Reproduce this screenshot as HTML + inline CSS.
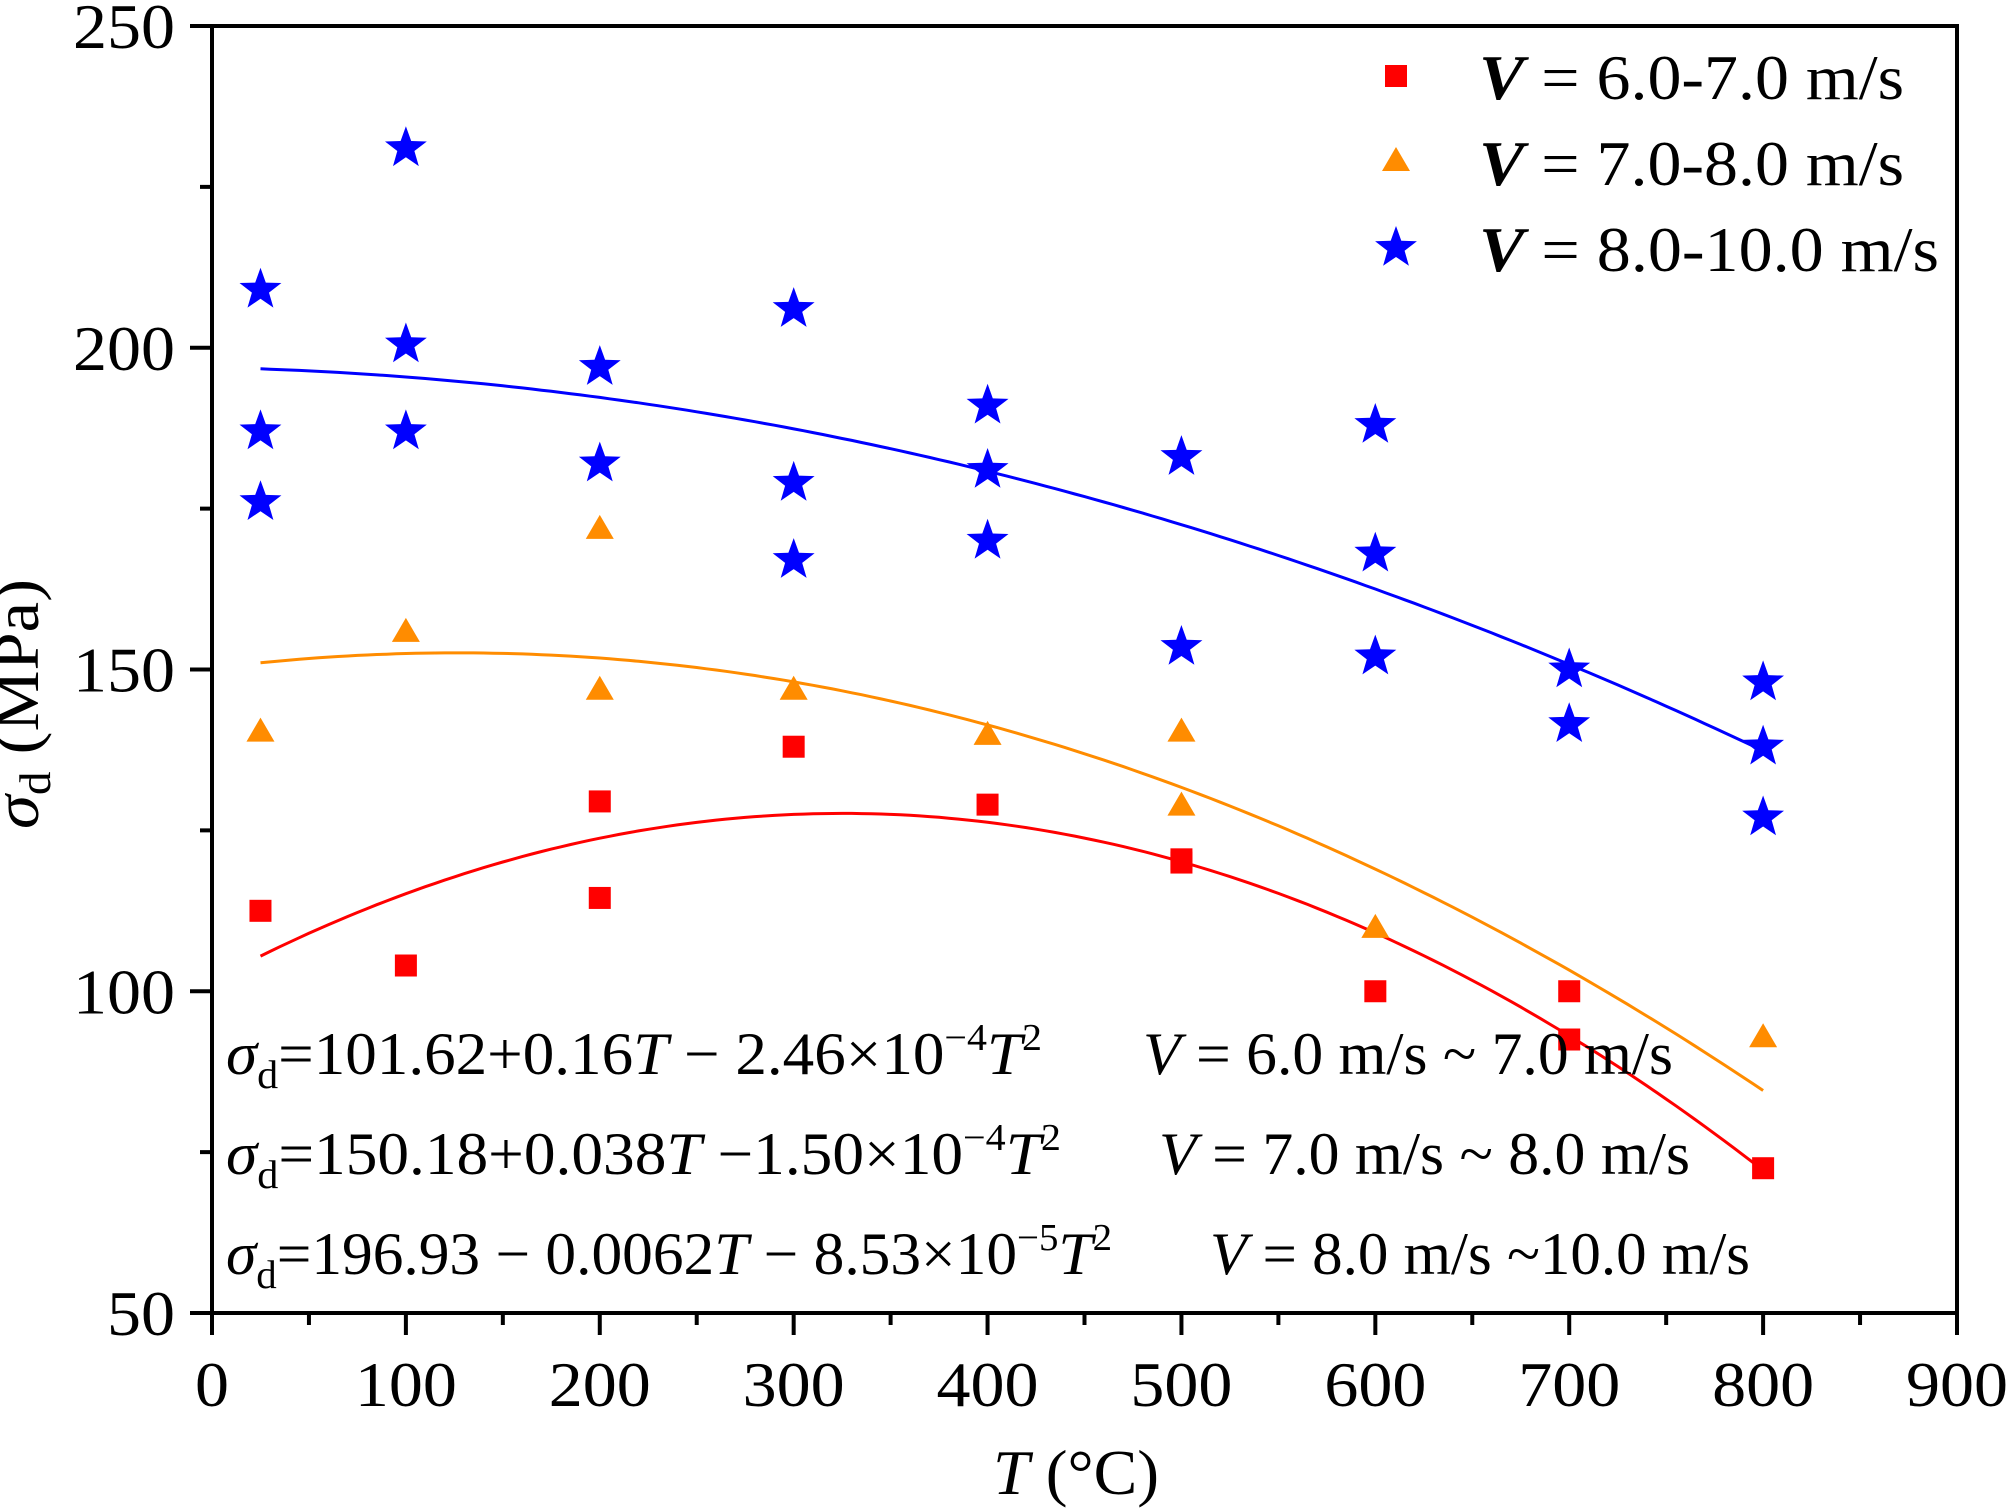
<!DOCTYPE html>
<html><head><meta charset="utf-8"><style>
html,body{margin:0;padding:0;background:#fff}
svg{display:block}
text{font-family:"Liberation Serif",serif;fill:#000}
</style></head><body>
<svg id="s" width="2008" height="1510" xmlns="http://www.w3.org/2000/svg">
<rect x="212" y="26" width="1745" height="1287" fill="none" stroke="#000" stroke-width="4"/>
<g id="ax"></g>
<g id="curves" fill="none" stroke-width="3"></g>
<g id="pts"></g>
<text x="38" y="704" font-size="64" text-anchor="middle" textLength="250" lengthAdjust="spacingAndGlyphs" transform="rotate(-90 38 704)"><tspan font-style="italic">σ</tspan><tspan font-size="44" dy="12">d</tspan><tspan dy="-12"> (MPa)</tspan></text>
<text x="1076" y="1494" font-size="64" text-anchor="middle" textLength="166" lengthAdjust="spacingAndGlyphs"><tspan font-style="italic">T</tspan> (°C)</text>
<g font-size="64">
<text x="1479" y="99" textLength="425" lengthAdjust="spacingAndGlyphs"><tspan font-style="italic" font-weight="bold">V</tspan> = 6.0-7.0 m/s</text>
<text x="1479" y="185" textLength="425" lengthAdjust="spacingAndGlyphs"><tspan font-style="italic" font-weight="bold">V</tspan> = 7.0-8.0 m/s</text>
<text x="1479" y="271" textLength="460" lengthAdjust="spacingAndGlyphs"><tspan font-style="italic" font-weight="bold">V</tspan> = 8.0-10.0 m/s</text>
</g>
<g font-size="60">
<text x="226" y="1074" textLength="816" lengthAdjust="spacingAndGlyphs"><tspan font-style="italic">σ</tspan><tspan font-size="40" dy="14">d</tspan><tspan dy="-14">=101.62+0.16</tspan><tspan font-style="italic">T</tspan> − 2.46×10<tspan font-size="38" dy="-24">−4</tspan><tspan dy="24" font-style="italic">T</tspan><tspan font-size="38" dy="-24">2</tspan></text>
<text x="1143" y="1074" textLength="530" lengthAdjust="spacingAndGlyphs"><tspan font-style="italic">V</tspan> = 6.0 m/s ~ 7.0 m/s</text>
<text x="226" y="1174" textLength="835" lengthAdjust="spacingAndGlyphs"><tspan font-style="italic">σ</tspan><tspan font-size="40" dy="14">d</tspan><tspan dy="-14">=150.18+0.038</tspan><tspan font-style="italic">T</tspan> −1.50×10<tspan font-size="38" dy="-24">−4</tspan><tspan dy="24" font-style="italic">T</tspan><tspan font-size="38" dy="-24">2</tspan></text>
<text x="1159" y="1174" textLength="531" lengthAdjust="spacingAndGlyphs"><tspan font-style="italic">V</tspan> = 7.0 m/s ~ 8.0 m/s</text>
<text x="226" y="1274" textLength="886" lengthAdjust="spacingAndGlyphs"><tspan font-style="italic">σ</tspan><tspan font-size="40" dy="14">d</tspan><tspan dy="-14">=196.93 − 0.0062</tspan><tspan font-style="italic">T</tspan> − 8.53×10<tspan font-size="38" dy="-24">−5</tspan><tspan dy="24" font-style="italic">T</tspan><tspan font-size="38" dy="-24">2</tspan></text>
<text x="1210" y="1274" textLength="540" lengthAdjust="spacingAndGlyphs"><tspan font-style="italic">V</tspan> = 8.0 m/s ~10.0 m/s</text>
</g>
</svg>
<script>
const NS="http://www.w3.org/2000/svg";
const X=t=>212+t*1745/900, Y=v=>1313-(v-50)*1287/200;
function el(p,tag,a,txt){const e=document.createElementNS(NS,tag);for(const k in a)e.setAttribute(k,a[k]);if(txt!=null)e.textContent=txt;document.getElementById(p).appendChild(e);return e;}
for(let t=0;t<=900;t+=50){const x=X(t),maj=t%100==0;el('ax','line',{x1:x,x2:x,y1:1313,y2:1313+(maj?22:12),stroke:'#000','stroke-width':4});
 if(maj){const s=String(t);el('ax','text',{x:x,y:1406,'font-size':64,'text-anchor':'middle',textLength:34*s.length,lengthAdjust:'spacingAndGlyphs'},s);}}
for(let v=50;v<=250;v+=25){const y=Y(v),maj=v%50==0;el('ax','line',{x1:212,x2:212-(maj?22:12),y1:y,y2:y,stroke:'#000','stroke-width':4});
 if(maj){const s=String(v);el('ax','text',{x:175-34*s.length,y:y+22,'font-size':64,textLength:34*s.length,lengthAdjust:'spacingAndGlyphs'},s);}}
function curve(f,c){let d='';for(let t=25;t<=800;t+=5)d+=(t==25?'M':'L')+X(t).toFixed(1)+','+Y(f(t)).toFixed(1);el('curves','path',{d:d,stroke:c});}
curve(t=>101.62+0.16*t-2.46e-4*t*t,'#ff0000');
curve(t=>150.18+0.038*t-1.5e-4*t*t,'#ff8c00');
curve(t=>196.93-0.0062*t-8.53e-5*t*t,'#0000ff');
function sq(x,y){el('pts','rect',{x:x-11,y:y-11,width:22,height:22,fill:'#ff0000'});}
function tri(x,y){el('pts','polygon',{points:`${x},${y-13} ${x-14},${y+11} ${x+14},${y+11}`,fill:'#ff8c00'});}
function star(x,y){let p=[];for(let i=0;i<10;i++){const r=i%2?9:22,a=-Math.PI/2+i*Math.PI/5;p.push((x+r*Math.cos(a)).toFixed(1)+','+(y+r*Math.sin(a)).toFixed(1));}el('pts','polygon',{points:p.join(' '),fill:'#0000ff'});}
const red=[[25,112.5],[100,104],[200,129.5],[200,114.5],[300,138],[400,129],[500,120.5],[500,120],[600,100],[700,100],[700,92.5],[800,72.5]];
const ora=[[25,140.5],[100,156],[200,172],[200,147],[300,147],[400,140],[500,140.5],[500,129],[600,110],[800,93]];
const blu=[[25,209],[25,187],[25,176],[100,231],[100,200.5],[100,187],[200,197],[200,182],[300,206],[300,179],[300,167],[400,191],[400,181],[400,170],[500,183],[500,153.5],[600,188],[600,168],[600,152],[700,150],[700,141.5],[800,148],[800,138],[800,127]];
red.forEach(p=>sq(X(p[0]),Y(p[1])));ora.forEach(p=>tri(X(p[0]),Y(p[1])));blu.forEach(p=>star(X(p[0]),Y(p[1])));
sq(1396,76);tri(1396,160);star(1396,248);
</script>
</body></html>
